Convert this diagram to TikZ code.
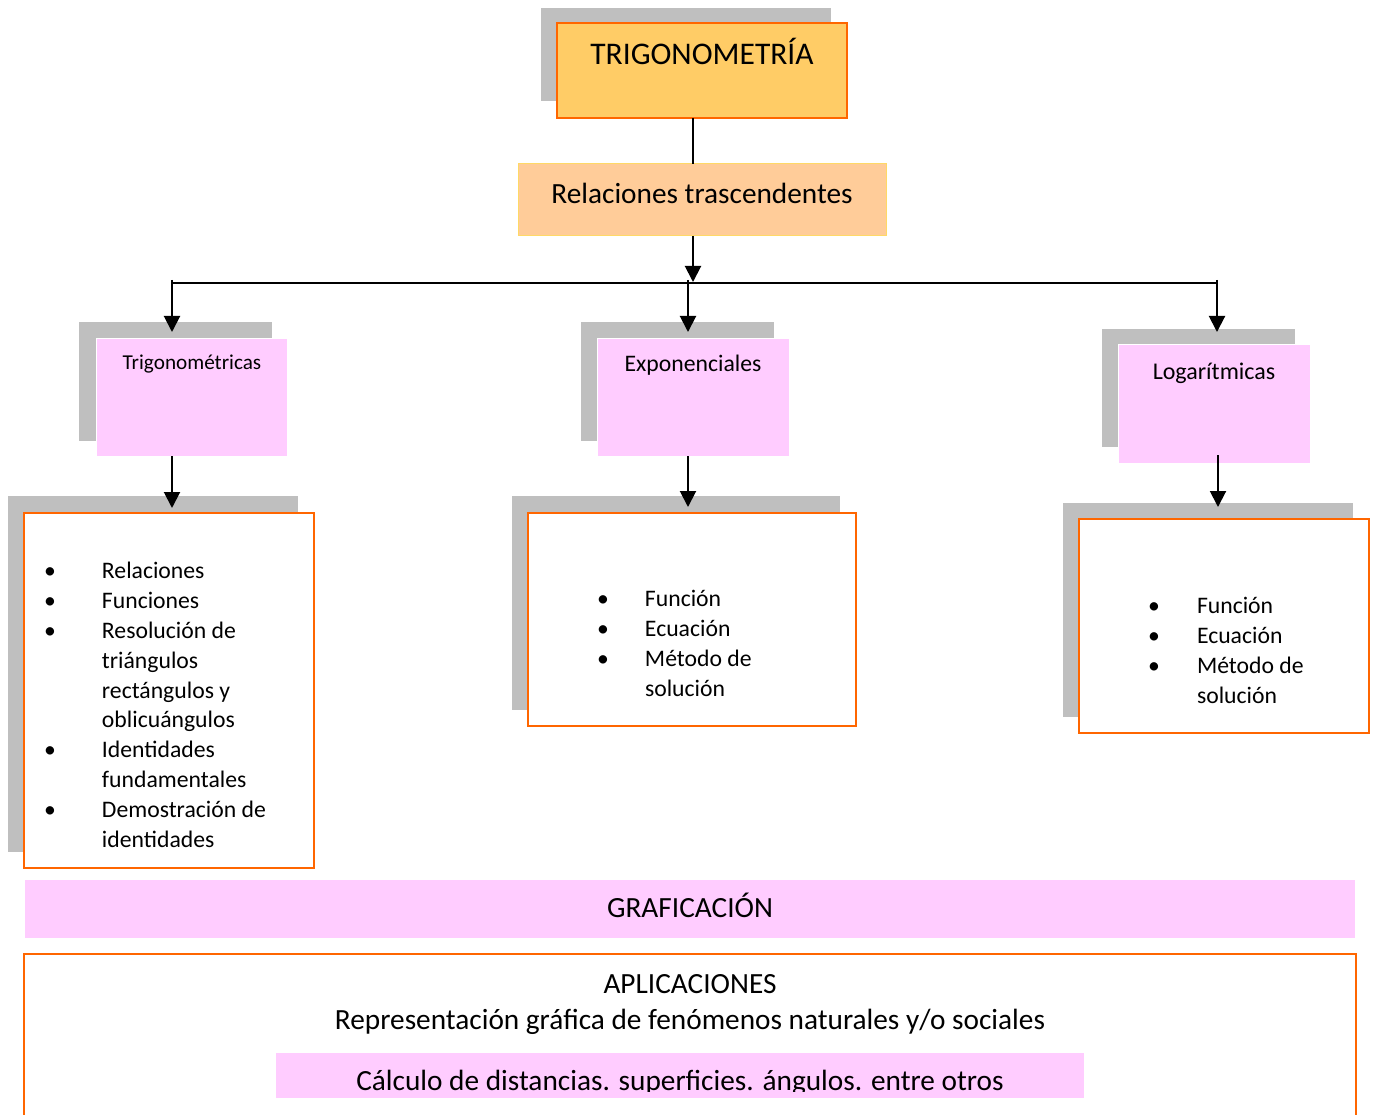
\documentclass[tikz,border=0pt]{standalone}
\usepackage{fontspec}
\setmainfont{Carlito}
\usetikzlibrary{arrows.meta}
\definecolor{og}{RGB}{255,102,0}
\definecolor{gr}{RGB}{191,191,191}
\definecolor{pk}{RGB}{255,204,255}
\definecolor{ttl}{RGB}{255,204,102}
\definecolor{rel}{RGB}{255,204,153}
\definecolor{relb}{RGB}{255,217,102}
\newcommand{\bul}[1]{\makebox[#1][l]{•}}
\begin{document}
\begin{tikzpicture}[x=1pt,y=-1pt,
  box/.style={rectangle, inner sep=0pt, outer sep=0pt, anchor=north west},
  shadebox/.style={box, fill=gr},
  pinkbox/.style={box, fill=pk, draw=white, line width=1pt},
  obox/.style={box, fill=white, draw=og, line width=2pt},
  arr/.style={line width=2pt, -{Triangle[width=16pt,length=16pt]}},
  conn/.style={line width=1.6pt},
  txt/.style={inner sep=0pt, outer sep=0pt},
  listtxt/.style={txt, anchor=north west, align=left, font=\fontsize{23.7}{29.9}\selectfont}
]
\useasboundingbox (0,0) rectangle (1374,1115);
\fill[white] (0,0) rectangle (1374,1115);

% title
\node[shadebox, minimum width=290pt, minimum height=93pt] (titlesh) at (541,8) {};
\node[obox, fill=ttl, minimum width=290pt, minimum height=95pt] (title) at (557,23) {};
\node[txt, anchor=base, font=\fontsize{31.5}{36}\selectfont] (titlet) at (702,65) {TRIGONOMETRÍA};

% relaciones
\node[box, fill=rel, draw=relb, line width=1pt, minimum width=368pt, minimum height=72pt] (rel) at (518,164) {};
\node[txt, anchor=base, font=\fontsize{29.3}{35}\selectfont] (relt) at (702,204) {Relaciones trascendentes};

\coordinate (spine) at (693,282);
\coordinate (hl) at (172,280);
\coordinate (hm) at (688,280);
\coordinate (hr) at (1217,280);
\draw[conn] (title.south -| spine) -- (rel.north -| spine);
\draw[arr] (rel.south -| spine) -- (spine);
\draw[conn] (172,283) coordinate (hla) -- (1217,283) coordinate (hra);

% level 2 boxes
\node[shadebox, minimum width=193pt, minimum height=119pt] (trigsh) at (79,322) {};
\node[pinkbox, minimum width=191pt, minimum height=117pt] (trig) at (96,339) {};
\node[txt, anchor=base, font=\fontsize{21.2}{25}\selectfont] (trigt) at (192,370) {Trigonométricas};

\node[shadebox, minimum width=193pt, minimum height=119pt] (expsh) at (581,322) {};
\node[pinkbox, minimum width=192pt, minimum height=117pt] (exp) at (597,339) {};
\node[txt, anchor=base, font=\fontsize{23.7}{28}\selectfont] (expt) at (693,372) {Exponenciales};

\node[shadebox, minimum width=193pt, minimum height=118pt] (logsh) at (1102,329) {};
\node[pinkbox, minimum width=192pt, minimum height=118pt] (log) at (1118,345) {};
\node[txt, anchor=base, font=\fontsize{24}{28}\selectfont] (logt) at (1214,379) {Logarítmicas};

\draw[arr] (hl) -- (172,332) coordinate (tl1);
\draw[arr] (hm) -- (688,332) coordinate (tm1);
\draw[arr] (hr) -- (1217,332) coordinate (tr1);

% level 3 boxes
\node[shadebox, minimum width=290pt, minimum height=356pt] (tlsh) at (8,496) {};
\node[obox, minimum width=290pt, minimum height=355pt] (tl) at (24,513) {};
\node[shadebox, minimum width=328pt, minimum height=214pt] (mlsh) at (512,496) {};
\node[obox, minimum width=328pt, minimum height=213pt] (ml) at (528,513) {};
\node[shadebox, minimum width=290pt, minimum height=214pt] (rlsh) at (1063,503) {};
\node[obox, minimum width=290pt, minimum height=214pt] (rl) at (1079,519) {};

\draw[arr] (trig.south -| tl1) -- (172,508) coordinate (tl2);
\draw[arr] (exp.south -| tm1) -- (688,507) coordinate (tm2);
\draw[arr] (1218,455) coordinate (tr1b) -- (1218,507) coordinate (tr2);

\node[listtxt] (tllist) at (44,562) {\bul{58pt}Relaciones\\\bul{58pt}Funciones\\\bul{58pt}Resolución de\\\hspace*{58pt}triángulos\\\hspace*{58pt}rectángulos y\\\hspace*{58pt}oblicuángulos\\\bul{58pt}Identidades\\\hspace*{58pt}fundamentales\\\bul{58pt}Demostración de\\\hspace*{58pt}identidades};
\node[listtxt] (mllist) at (597,590) {\bul{48pt}Función\\\bul{48pt}Ecuación\\\bul{48pt}Método de\\\hspace*{48pt}solución};
\node[listtxt] (rllist) at (1148,597) {\bul{49pt}Función\\\bul{49pt}Ecuación\\\bul{49pt}Método de\\\hspace*{49pt}solución};

% bottom
\node[box, fill=pk, minimum width=1330pt, minimum height=58pt] (graf) at (25,880) {};
\node[txt, anchor=base, font=\fontsize{29.3}{35}\selectfont] (graft) at (690,917) {GRAFICACIÓN};

\node[obox, minimum width=1332pt, minimum height=200pt] (apl) at (24,954) {};
\node[txt, anchor=base, font=\fontsize{29.3}{35}\selectfont] (aplt) at (690,993) {APLICACIONES};
\node[txt, anchor=base, font=\fontsize{29.3}{35}\selectfont] (rept) at (690,1029) {Representación gráfica de fenómenos naturales y/o sociales};
\node[box, fill=pk, minimum width=808pt, minimum height=45pt] (calc) at (276,1053) {};
\begin{scope}
\clip (276,1053) rectangle (1084,1091);
\node[txt, anchor=base, font=\fontsize{29.3}{35}\selectfont] (calct) at (680,1090) {Cálculo de distancias. superficies. ángulos. entre otros};
\end{scope}
\end{tikzpicture}
\end{document}
